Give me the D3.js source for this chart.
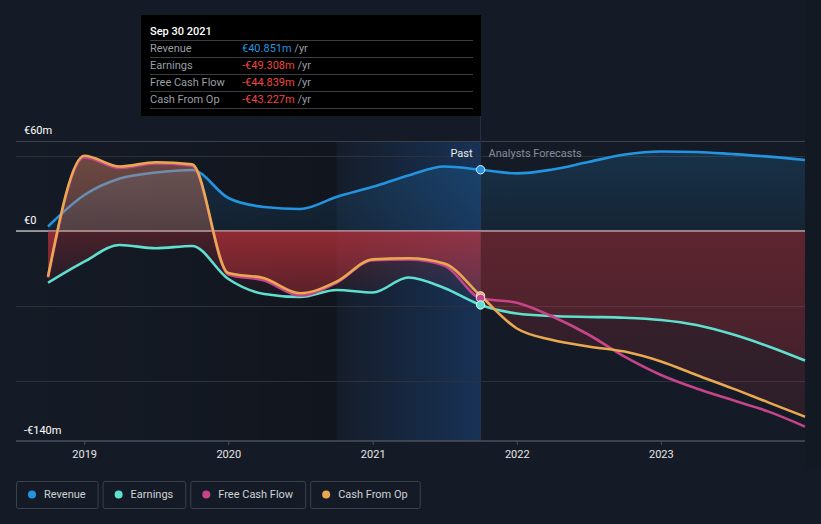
<!DOCTYPE html>
<html>
<head>
<meta charset="utf-8">
<script src="https://cdn.jsdelivr.net/npm/d3@7"></script>
<style>
  html, body { margin: 0; padding: 0; background: #151b26; }
  svg { display: block; font-family: Roboto, "Open Sans", sans-serif; }
</style>
</head>
<body>
<svg id="chart" width="821" height="524"></svg>
<script>
// ---------- data ----------
const dates = ["2018-09-30","2018-12-31","2019-03-31","2019-06-30","2019-09-30","2019-12-31",
  "2020-03-31","2020-06-30","2020-09-30","2020-12-31","2021-03-31","2021-06-30","2021-09-30",
  "2021-12-31","2022-03-31","2022-06-30","2022-09-30","2022-12-31","2023-03-31","2023-06-30",
  "2023-09-30","2023-12-31"];
const revenue  = [3, 24, 35, 39, 40.7, 22, 16, 14.7, 22.7, 29.5, 37, 43, 40.851,
  38.4, 41, 46, 51, 53, 52.7, 51.3, 49.6, 47.3];
const earnings = [-34.5, -20.4, -9.3, -11.5, -10, -32, -42, -44, -39.3, -41, -31, -38, -49.308,
  -55, -56.7, -57.3, -57.8, -59.3, -62.7, -68.9, -77, -86.4];
const freeCashFlow = [-31, 49, 42, 45, 43.5, -29, -33, -43, -34.5, -19.5, -19, -23, -44.839,
  -47.8, -57, -69, -83.8, -96, -105, -112.7, -120.4, -130.4];
const cashFromOp = [-30.4, 50.2, 43, 45.8, 44.4, -28, -31.5, -41.5, -33.8, -18.9, -18.2, -21.6, -43.227,
  -65, -72.7, -77, -80.4, -87, -96, -104.9, -114.4, -123.8];
const yTicks = [60, 0, -140];
const yTickLabels = ["€60m", "€0", "-€140m"];
const gridValues = [60, 50, 0, -50, -100];
const xTickYears = ["2019", "2020", "2021", "2022", "2023"];
const pastDate = "2021-09-30";
const bandStart = "2020-09-30";
const tooltipTitle = "Sep 30 2021";
const tooltipRows = [
  {label: "Revenue", value: "€40.851m", neg: false},
  {label: "Earnings", value: "-€49.308m", neg: true},
  {label: "Free Cash Flow", value: "-€44.839m", neg: true},
  {label: "Cash From Op", value: "-€43.227m", neg: true}
];
const seriesNames = ["Revenue", "Earnings", "Free Cash Flow", "Cash From Op"];
const seriesColors = ["#2394df", "#5fe0cf", "#c8448a", "#e9a951"];

// ---------- setup ----------
const parse = d3.timeParse("%Y-%m-%d");
const D = dates.map(parse);
const svg = d3.select("#chart");
const W = 821, H = 524;
const plotL = 16, plotR = 805, plotT = 141, plotB = 441;

const x = d3.scaleTime().domain([D[0], D[D.length - 1]]).range([48, 805]);
const y = d3.scaleLinear().domain([-140, 60]).range([plotB, plotT]);
const xPast = x(parse(pastDate));
const pi = dates.indexOf(pastDate);

const defs = svg.append("defs");
const lg = (id, x1, y1, x2, y2, stops) => {
  const g = defs.append("linearGradient").attr("id", id)
    .attr("gradientUnits", "userSpaceOnUse")
    .attr("x1", x1).attr("y1", y1).attr("x2", x2).attr("y2", y2);
  stops.forEach(s => g.append("stop").attr("offset", s[0]).attr("stop-color", s[1]).attr("stop-opacity", s[2]));
};
lg("bandGrad", x(parse(bandStart)), 0, xPast, 0, [[0, "#1f6fd6", 0.02], [1, "#1f6fd6", 0.27]]);
lg("darkGrad", plotL, 0, x(parse(bandStart)), 0, [[0, "#000", 0], [1, "#000", 0.22]]);
lg("revGrad", 0, y(60), 0, y(0), [[0, "#2394df", 0.2], [1, "#2394df", 0.08]]);
lg("posGradO", 0, y(60), 0, y(0), [[0, "#e9a951", 0.3], [1, "#e9a951", 0.18]]);
lg("posGradP", 0, y(60), 0, y(0), [[0, "#c8448a", 0.25], [1, "#c8448a", 0.15]]);

// background
svg.append("rect").attr("x", 0).attr("y", 0).attr("width", W).attr("height", H).attr("fill", "#151b26");
svg.append("rect").attr("x", plotR).attr("y", 0).attr("width", W - plotR).attr("height", 470).attr("fill", "#131922");

svg.append("rect").attr("x", plotL).attr("y", plotT).attr("width", x(parse(bandStart)) - plotL)
  .attr("height", plotB - plotT).attr("fill", "url(#darkGrad)");
svg.append("rect").attr("x", x(parse(bandStart))).attr("y", plotT)
  .attr("width", xPast - x(parse(bandStart))).attr("height", plotB - plotT)
  .attr("fill", "url(#bandGrad)");

// gridlines
svg.append("g").selectAll("line").data(gridValues).join("line")
  .attr("x1", plotL).attr("x2", plotR)
  .attr("y1", d => y(d)).attr("y2", d => y(d))
  .attr("stroke", d => d === 60 ? "#3b414b" : "#2c313b").attr("stroke-width", 1)
  .attr("shape-rendering", "crispEdges");

svg.append("line").attr("x1", xPast).attr("x2", xPast)
  .attr("y1", 116).attr("y2", plotB).attr("stroke", "#24324a").attr("stroke-width", 1);

// zero line
svg.append("line").attr("x1", plotL).attr("x2", plotR).attr("y1", y(0)).attr("y2", y(0))
  .attr("stroke", "#ffffff").attr("stroke-width", 1.2);

const curve = d3.curveMonotoneX;
const mk = vals => D.map((d, i) => ({d, v: vals[i]}));
const rev = mk(revenue), ear = mk(earnings), fcf = mk(freeCashFlow), cfo = mk(cashFromOp);

svg.append("path").datum(rev)
  .attr("d", d3.area().curve(curve).x(p => x(p.d)).y0(y(0)).y1(p => y(p.v)))
  .attr("fill", "url(#revGrad)");
const lineGen = d3.line().curve(curve).x(p => x(p.d)).y(p => y(p.v));
svg.append("path").datum(rev).attr("d", lineGen)
  .attr("fill", "none").attr("stroke", seriesColors[0]).attr("stroke-width", 2.6);

// clips
defs.append("clipPath").attr("id", "negPast").append("rect")
  .attr("x", 0).attr("y", y(0)).attr("width", xPast).attr("height", plotB - y(0));
defs.append("clipPath").attr("id", "negFut").append("rect")
  .attr("x", xPast).attr("y", y(0)).attr("width", W - xPast).attr("height", plotB - y(0));
defs.append("clipPath").attr("id", "posClip").append("rect")
  .attr("x", 0).attr("y", 0).attr("width", W).attr("height", y(0));
const fullArea = d3.area().curve(curve).x(p => x(p.d)).y0(y(0)).y1(p => y(p.v));

// negative fills: past (earnings, fcf, cfo)
[["ear", ear, 0.0], ["fcf", fcf, 0.17], ["cfo", cfo, 0.17]].forEach(([k, s, bottom]) => {
  const mn = d3.min(s.slice(0, pi + 1), p => p.v);
  lg("rp_" + k, 0, y(0), 0, y(mn), [[0, "#e0363f", 0.27], [1, "#e0363f", bottom]]);
  svg.append("path").datum(s).attr("d", fullArea).attr("fill", "url(#rp_" + k + ")")
    .attr("clip-path", "url(#negPast)");
});
// forecast fills: earnings and cash from op
[["ear", ear], ["cfo", cfo]].forEach(([k, s]) => {
  const mn = d3.min(s.slice(pi), p => p.v);
  lg("rf_" + k, 0, y(0), 0, y(mn), [[0, "#e0363f", 0.2], [1, "#e0363f", 0.11]]);
  svg.append("path").datum(s).attr("d", fullArea).attr("fill", "url(#rf_" + k + ")")
    .attr("clip-path", "url(#negFut)");
});
svg.append("path").datum(fcf).attr("d", fullArea).attr("fill", "url(#posGradP)")
  .attr("clip-path", "url(#posClip)");
svg.append("path").datum(cfo).attr("d", fullArea).attr("fill", "url(#posGradO)")
  .attr("clip-path", "url(#posClip)");

// lines
[[ear, 1], [fcf, 2], [cfo, 3]].forEach(([s, i]) => {
  svg.append("path").datum(s).attr("d", lineGen)
    .attr("fill", "none").attr("stroke", seriesColors[i]).attr("stroke-width", 2.6);
});

// markers
[[cfo, 3], [fcf, 2], [ear, 1], [rev, 0]].forEach(([s, i]) => {
  svg.append("circle").attr("cx", x(s[pi].d)).attr("cy", y(s[pi].v)).attr("r", 4.2)
    .attr("fill", seriesColors[i]).attr("stroke", "#ffffff").attr("stroke-opacity", 0.85).attr("stroke-width", 1);
});

// x axis
svg.append("line").attr("x1", plotL).attr("x2", plotR).attr("y1", plotB).attr("y2", plotB)
  .attr("stroke", "#4a505b").attr("stroke-width", 1.5);
const xAxis = svg.append("g");
xTickYears.forEach(yr => {
  const xx = x(parse(yr + "-01-01"));
  xAxis.append("line").attr("x1", xx).attr("x2", xx).attr("y1", plotB).attr("y2", plotB + 4)
    .attr("stroke", "#4a505b");
  xAxis.append("text").attr("x", xx).attr("y", 458).attr("text-anchor", "middle")
    .attr("fill", "#e6e6e6").attr("font-size", 11).text(yr);
});

// y labels
const yBase = {60: 134, 0: 224, "-140": 434};
yTicks.forEach((v, i) => {
  svg.append("text").attr("x", 24).attr("y", yBase[v]).attr("fill", "#ffffff")
    .attr("font-size", 11).text(yTickLabels[i]);
});

svg.append("text").attr("x", xPast - 8).attr("y", 157).attr("text-anchor", "end")
  .attr("fill", "#ececec").attr("font-size", 11).text("Past");
svg.append("text").attr("x", xPast + 8).attr("y", 157)
  .attr("fill", "#868c96").attr("font-size", 11).text("Analysts Forecasts");

// tooltip
const tt = svg.append("g");
tt.append("rect").attr("x", 141).attr("y", 15).attr("width", 340).attr("height", 101).attr("fill", "#000000");
tt.append("text").attr("x", 150).attr("y", 35).attr("fill", "#ffffff").attr("font-size", 11)
  .attr("font-weight", 500).text(tooltipTitle);
tooltipRows.forEach((r, i) => {
  const top = 40 + i * 17;
  tt.append("line").attr("x1", 150).attr("x2", 473).attr("y1", top + 0.5).attr("y2", top + 0.5)
    .attr("stroke", "#3a3d42").attr("stroke-width", 1);
  tt.append("text").attr("x", 150).attr("y", top + 12).attr("fill", "#9a9ea5").attr("font-size", 11).text(r.label);
  const t = tt.append("text").attr("x", 242).attr("y", top + 12).attr("font-size", 11);
  t.append("tspan").attr("fill", r.neg ? "#f0453f" : "#2394df").text(r.value);
  t.append("tspan").attr("fill", "#9a9ea5").text(" /yr");
});
tt.append("line").attr("x1", 150).attr("x2", 473).attr("y1", 108.5).attr("y2", 108.5)
  .attr("stroke", "#3a3d42").attr("stroke-width", 1);

// legend
let lx = 16;
seriesNames.forEach((n, i) => {
  const g = svg.append("g");
  const txt = g.append("text").attr("x", lx + 28).attr("y", 498).attr("fill", "#cfd2d6")
    .attr("font-size", 11).text(n);
  const tw = txt.node().getComputedTextLength();
  const bw = 28 + tw + 12;
  g.insert("rect", "text").attr("x", lx + 0.5).attr("y", 481.5).attr("width", bw).attr("height", 27)
    .attr("rx", 2).attr("fill", "none").attr("stroke", "#3c424c").attr("stroke-width", 1);
  g.append("circle").attr("cx", lx + 16).attr("cy", 494.5).attr("r", 4).attr("fill", seriesColors[i]);
  lx += bw + 5;
});
</script>
</body>
</html>
